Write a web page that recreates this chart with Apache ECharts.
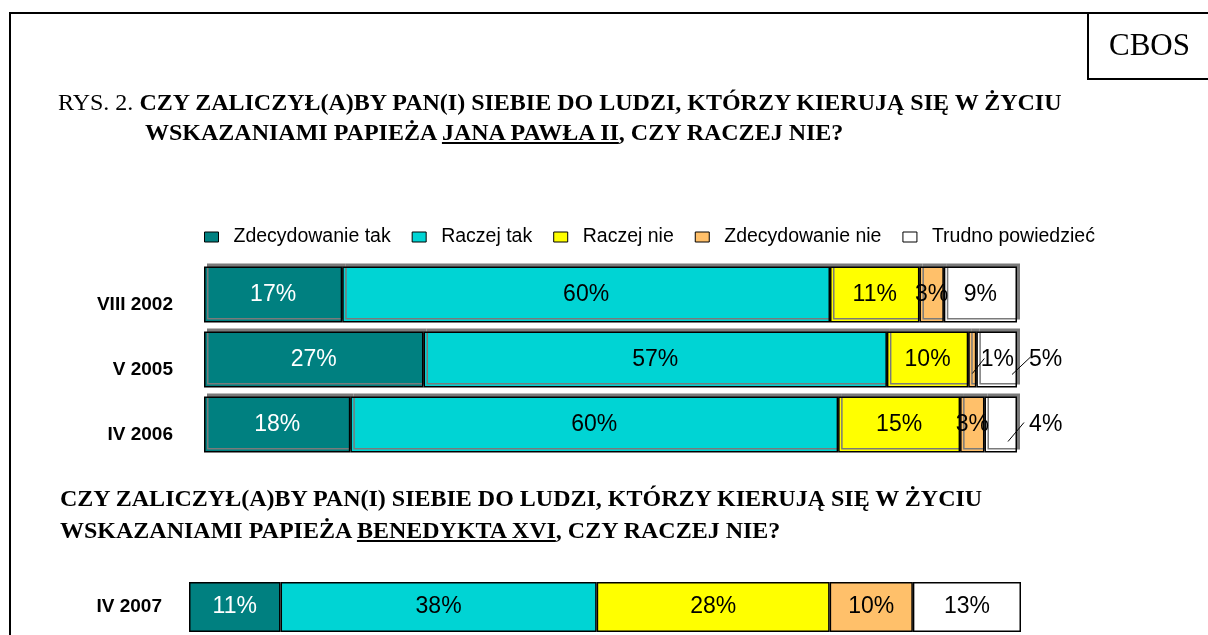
<!DOCTYPE html>
<html>
<head>
<meta charset="utf-8">
<script src="https://cdn.jsdelivr.net/npm/echarts@6/dist/echarts.min.js"></script>
<style>
  html, body { margin: 0; padding: 0; background: #fff; }
  #wrap { position: relative; width: 1208px; height: 635px; overflow: hidden; }
  #chart { position: absolute; left: 0; top: 0; width: 1208px; height: 635px; }
  .frame { position: absolute; left: 9px; top: 12px; width: 1300px; height: 700px;
           border-left: 2px solid #000; border-top: 2px solid #000; }
  .cbos { position: absolute; left: 1087px; top: 12px; width: 121px; height: 66px;
          border-left: 2px solid #000; border-bottom: 2px solid #000;
          text-align: center; font: 31px "Liberation Serif", "Times New Roman", serif; line-height: 66px; }
  .t { position: absolute; font-family: "Liberation Serif", "Times New Roman", serif; font-size: 24px;
       font-weight: bold; white-space: nowrap; color: #000; line-height: 26px; }
  .t .n { font-weight: normal; }
</style>
</head>
<body>
<div id="wrap">
  <div id="chart"></div>
  <div class="frame"></div>
  <div class="cbos">CBOS</div>
  <div class="t" style="left:58px; top:89px;"><span class="n">RYS. 2.</span> CZY ZALICZYŁ(A)BY PAN(I) SIEBIE DO LUDZI, KTÓRZY KIERUJĄ SIĘ W ŻYCIU</div>
  <div class="t" style="left:145px; top:119px;">WSKAZANIAMI PAPIEŻA <u>JANA PAWŁA II</u>, CZY RACZEJ NIE?</div>
  <div class="t" style="left:60px; top:485px;">CZY ZALICZYŁ(A)BY PAN(I) SIEBIE DO LUDZI, KTÓRZY KIERUJĄ SIĘ W ŻYCIU</div>
  <div class="t" style="left:60px; top:517px;">WSKAZANIAMI PAPIEŻA <u>BENEDYKTA XVI</u>, CZY RACZEJ NIE?</div>
</div>
<script>
// kategorie
const okresyJP2 = ['VIII 2002', 'V 2005', 'IV 2006'];
const okresyB16 = ['IV 2007'];
const nazwy = ['Zdecydowanie tak', 'Raczej tak', 'Raczej nie', 'Zdecydowanie nie', 'Trudno powiedzieć'];
const kolory = ['#008080', '#00D4D4', '#FFFF00', '#FFC06A', '#FFFFFF'];

// Jan Paweł II (%)
const zdecTakJP2 = [17, 27, 18];
const raczejTakJP2 = [60, 57, 60];
const raczejNieJP2 = [11, 10, 15];
const zdecNieJP2 = [3, 1, 3];
const trudnoJP2 = [9, 5, 4];

// Benedykt XVI (%)
const zdecTakB16 = [11];
const raczejTakB16 = [38];
const raczejNieB16 = [28];
const zdecNieB16 = [10];
const trudnoB16 = [13];

const daneJP2 = [zdecTakJP2, raczejTakJP2, raczejNieJP2, zdecNieJP2, trudnoJP2];
const daneB16 = [zdecTakB16, raczejTakB16, raczejNieB16, zdecNieB16, trudnoB16];

const fontSans = '"Liberation Sans", Arial, sans-serif';

// etykiety wyniesione poza wąskie segmenty: "seria-indeks" -> przesunięcie etykiety
// oraz początek/koniec kreski odnośnika względem końca segmentu
const wyniesione = {
    '3-1': { dx: 25, x1: -4, y1: 14, x2: 8, y2: -1 },
    '4-1': { dx: 49, x1: -5, y1: 15, x2: 13, y2: -2 },
    '4-2': { dx: 45, x1: -9, y1: 17, x2: 7, y2: -2 }
};

const chart = echarts.init(document.getElementById('chart'));

function seria(i, dane, grid) {
    const jp2 = grid === 0;
    const s = {
        name: nazwy[i],
        type: 'bar',
        stack: 'g' + grid,
        xAxisIndex: grid,
        yAxisIndex: grid,
        barWidth: jp2 ? 56 : 50,
        data: dane,
        itemStyle: {
            color: kolory[i],
            borderColor: '#000',
            borderWidth: 1.5,
            shadowColor: jp2 ? '#7a7a7a' : 'rgba(0,0,0,0)',
            shadowOffsetX: jp2 ? 3 : 0,
            shadowOffsetY: jp2 ? -3 : 0,
            shadowBlur: 0
        },
        label: {
            show: true,
            position: 'inside',
            formatter: '{c}%',
            color: i === 0 ? '#fff' : '#000',
            fontSize: 23,
            fontFamily: fontSans
        }
    };
    if (jp2) {
        s.labelLayout = function (p) {
            const w = wyniesione[i + '-' + p.dataIndex];
            return w ? { dx: w.dx, dy: 0 } : {};
        };
    }
    return s;
}

const series = [];
for (let i = 0; i < 5; i++) series.push(seria(i, daneJP2[i], 0));
for (let i = 0; i < 5; i++) series.push(seria(i, daneB16[i], 1));

chart.setOption({
    animation: false,
    legend: {
        data: nazwy,
        left: 199,
        top: 222,
        itemWidth: 14,
        itemHeight: 10,
        itemGap: 21,
        icon: 'rect',
        itemStyle: { borderColor: '#000', borderWidth: 1 },
        textStyle: { fontSize: 19.5, fontFamily: fontSans, color: '#000', padding: [0, 0, 0, 10] }
    },
    grid: [
        { left: 204, width: 813, top: 262, height: 195 },
        { left: 189, width: 832, top: 582, height: 50 }
    ],
    xAxis: [
        { gridIndex: 0, type: 'value', min: 0, max: 100, show: false },
        { gridIndex: 1, type: 'value', min: 0, max: 100, show: false }
    ],
    yAxis: [
        {
            gridIndex: 0, type: 'category', data: okresyJP2, inverse: true,
            axisLine: { show: false }, axisTick: { show: false },
            axisLabel: { margin: 31, fontSize: 19, fontWeight: 'bold', fontFamily: fontSans, color: '#000',
                         verticalAlign: 'top', lineHeight: 20 }
        },
        {
            gridIndex: 1, type: 'category', data: okresyB16,
            axisLine: { show: false }, axisTick: { show: false },
            axisLabel: { margin: 27, fontSize: 19, fontWeight: 'bold', fontFamily: fontSans, color: '#000' }
        }
    ],
    series: series
});

// kreski odnośników – liczone ze skali osi (koniec segmentu w stosie)
const odnosniki = Object.keys(wyniesione).map(klucz => {
    const [s, d] = klucz.split('-').map(Number);
    let suma = 0;
    for (let k = 0; k <= s; k++) suma += daneJP2[k][d];
    const [px, py] = chart.convertToPixel({ gridIndex: 0 }, [suma, d]);
    const w = wyniesione[klucz];
    return {
        type: 'line',
        silent: true,
        z: 100,
        shape: { x1: px + w.x1, y1: py + w.y1, x2: px + w.x2, y2: py + w.y2 },
        style: { stroke: '#000', lineWidth: 1 }
    };
});
chart.setOption({ graphic: odnosniki });
</script>
</body>
</html>
